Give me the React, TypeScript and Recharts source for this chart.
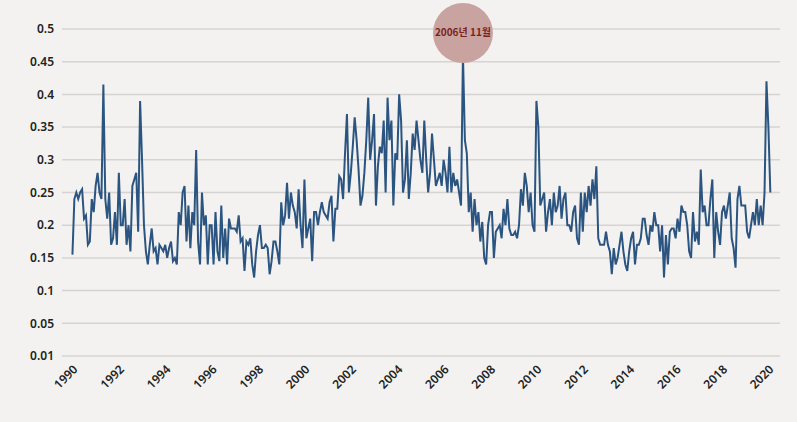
import { LineChart, Line, XAxis, YAxis, CartesianGrid, ReferenceDot } from 'recharts'

// monthly values, Jan 1990 onwards
const values1990s = [
  0.155, 0.24, 0.25, 0.24, 0.25, 0.255, 0.21, 0.215, 0.17, 0.175, 0.24, 0.22,
  0.26, 0.28, 0.25, 0.24, 0.415, 0.24, 0.21, 0.25, 0.17, 0.18, 0.22, 0.17,
  0.28, 0.2, 0.2, 0.24, 0.17, 0.2, 0.16, 0.26, 0.27, 0.28, 0.19, 0.39,
  0.3, 0.2, 0.16, 0.14, 0.17, 0.195, 0.16, 0.165, 0.14, 0.17, 0.165, 0.16,
  0.17, 0.15, 0.165, 0.175, 0.145, 0.15, 0.14, 0.22, 0.2, 0.25, 0.26, 0.175,
  0.23, 0.165, 0.22, 0.2, 0.315, 0.175, 0.14, 0.25, 0.2, 0.215, 0.14, 0.2,
  0.2, 0.14, 0.22, 0.16, 0.145, 0.23, 0.15, 0.195, 0.14, 0.21, 0.195, 0.195,
  0.195, 0.19, 0.215, 0.175, 0.18, 0.13, 0.175, 0.17, 0.18, 0.14, 0.12, 0.16,
  0.185, 0.2, 0.165, 0.165, 0.17, 0.165, 0.125, 0.145, 0.175, 0.175, 0.16, 0.14,
  0.235, 0.2, 0.215, 0.265, 0.21, 0.25, 0.23, 0.22, 0.195, 0.255, 0.2, 0.165,
]
const values2000s = [
  0.27, 0.18, 0.195, 0.21, 0.145, 0.22, 0.22, 0.2, 0.22, 0.235, 0.22, 0.215,
  0.21, 0.235, 0.245, 0.175, 0.225, 0.225, 0.275, 0.27, 0.24, 0.31, 0.37, 0.25,
  0.28, 0.32, 0.365, 0.33, 0.285, 0.23, 0.245, 0.28, 0.33, 0.395, 0.3, 0.33,
  0.37, 0.23, 0.29, 0.32, 0.31, 0.36, 0.25, 0.395, 0.33, 0.36, 0.23, 0.31,
  0.3, 0.4, 0.36, 0.25, 0.27, 0.33, 0.24, 0.28, 0.34, 0.315, 0.36, 0.33,
  0.3, 0.28, 0.36, 0.3, 0.25, 0.28, 0.34, 0.3, 0.26, 0.27, 0.28, 0.26,
  0.3, 0.28, 0.25, 0.32, 0.25, 0.28, 0.26, 0.27, 0.25, 0.23, 0.462, 0.33,
  0.31, 0.22, 0.25, 0.19, 0.24, 0.2, 0.22, 0.175, 0.205, 0.15, 0.14, 0.2,
  0.22, 0.22, 0.15, 0.19, 0.195, 0.2, 0.18, 0.225, 0.2, 0.24, 0.195, 0.185,
  0.185, 0.19, 0.18, 0.2, 0.255, 0.23, 0.28, 0.26, 0.22, 0.25, 0.2, 0.19,
]
const values2010s = [
  0.39, 0.35, 0.23, 0.24, 0.25, 0.19, 0.22, 0.24, 0.2, 0.25, 0.22, 0.23,
  0.26, 0.21, 0.24, 0.25, 0.2, 0.2, 0.19, 0.22, 0.23, 0.18, 0.17, 0.25,
  0.19, 0.25, 0.22, 0.26, 0.23, 0.27, 0.24, 0.29, 0.18, 0.17, 0.17, 0.17,
  0.19, 0.17, 0.16, 0.125, 0.165, 0.14, 0.15, 0.17, 0.19, 0.16, 0.14, 0.13,
  0.16, 0.18, 0.19, 0.14, 0.17, 0.17, 0.18, 0.21, 0.21, 0.185, 0.17, 0.2,
  0.19, 0.22, 0.2, 0.2, 0.16, 0.2, 0.12, 0.185, 0.14, 0.19, 0.195, 0.195,
  0.18, 0.21, 0.19, 0.23, 0.22, 0.22, 0.2, 0.16, 0.15, 0.22, 0.175, 0.19,
  0.17, 0.285, 0.22, 0.23, 0.2, 0.2, 0.24, 0.27, 0.15, 0.22, 0.19, 0.17,
  0.22, 0.23, 0.21, 0.23, 0.25, 0.18, 0.165, 0.135, 0.24, 0.26, 0.23, 0.23,
  0.23, 0.19, 0.18, 0.2, 0.22, 0.2, 0.24, 0.2, 0.23, 0.2, 0.25, 0.42,
  0.35, 0.25,
]
const yearTicks = Array.from({ length: 31 }, (_, i) => 1990 + i)
const yTicks = [0, 0.05, 0.1, 0.15, 0.2, 0.25, 0.3, 0.35, 0.4, 0.45, 0.5]

const allValues = [...values1990s, ...values2000s, ...values2010s]
const data = allValues.map((v, i) => ({ t: 1990 + i / 12, v }))
const peak = data.reduce((a, b) => (b.v > a.v ? b : a))

export default function App() {
  return (
    <div style={{ position: 'fixed', top: 0, left: 0, width: 797, height: 422, background: '#f3f2f0', fontFamily: 'Noto Sans, sans-serif' }}>
      <LineChart width={797} height={422} data={data} margin={{ top: 29, right: 17, bottom: 8, left: 0 }}>
        <CartesianGrid vertical={false} stroke="#d6d4d2" strokeWidth={1.5} />
        <XAxis
          dataKey="t"
          type="number"
          domain={[1989.55, 2020.5]}
          ticks={yearTicks}
          axisLine={false}
          tickLine={false}
          angle={-45}
          textAnchor="end"
          height={58}
          tick={{ fontSize: 12, fill: '#222', fontWeight: 600 }}
        />
        <YAxis
          domain={[0, 0.5]}
          ticks={yTicks}
          axisLine={false}
          tickLine={false}
          width={62}
          tickFormatter={(v) => (v === 0 ? '0.01' : String(v))}
          tick={{ fontSize: 12, fill: '#222', fontWeight: 600 }}
        />
        <ReferenceDot
          x={peak.t}
          y={0.494}
          r={30}
          fill="#c9a3a0"
          stroke="none"
          ifOverflow="visible"
          label={{ value: '2006년 11월', fill: '#7a1f22', fontSize: 10, fontWeight: 700, position: 'center', fontFamily: 'Noto Sans CJK KR' }}
        />
        <Line type="linear" dataKey="v" stroke="#2b5580" strokeWidth={2} dot={false} isAnimationActive={false} />
      </LineChart>
    </div>
  )
}
